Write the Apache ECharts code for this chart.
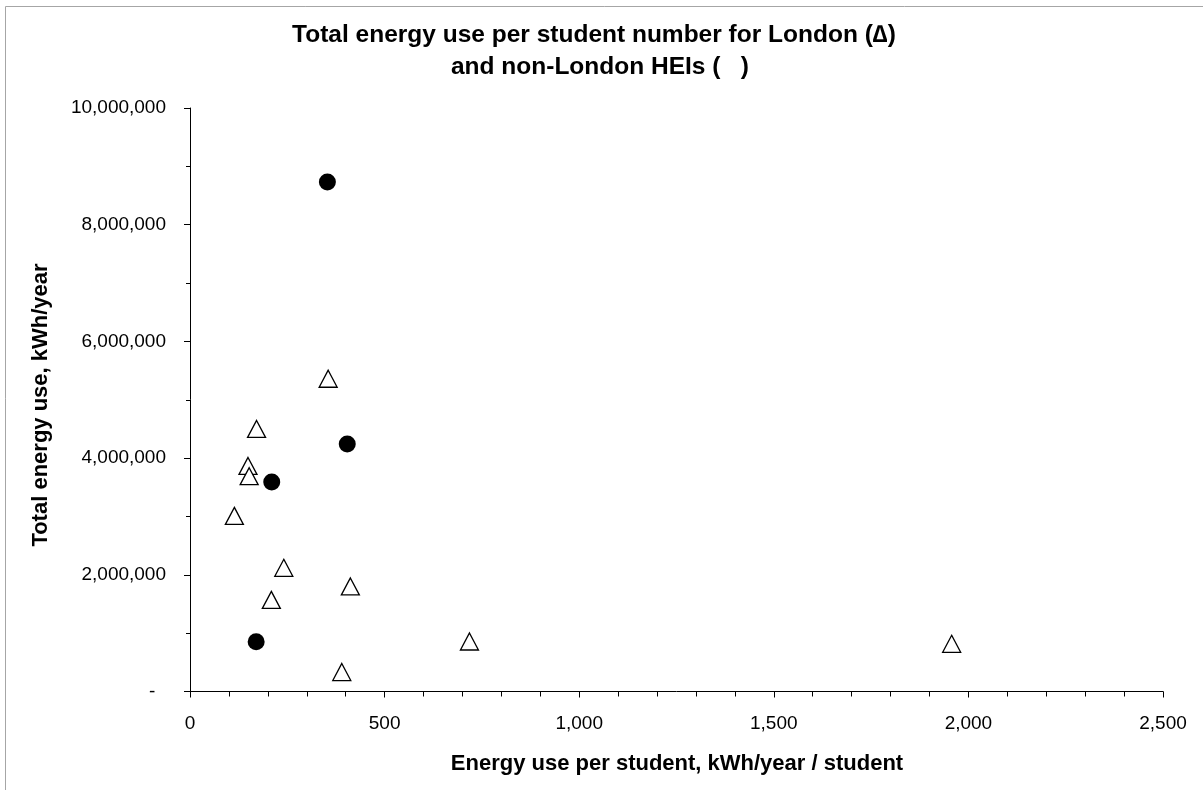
<!DOCTYPE html>
<html>
<head>
<meta charset="utf-8">
<script src="https://cdn.jsdelivr.net/npm/echarts@6/dist/echarts.min.js"></script>
<style>
html,body{margin:0;padding:0;background:#fff;}
#chart{width:1203px;height:790px;}
</style>
</head>
<body>
<div id="chart"></div>
<script>
// London HEIs (triangles)
const londonX = [171, 149, 152, 114, 241, 209, 412, 390, 355, 718, 1957];
const londonY = [4500000, 3865000, 3690000, 3010000, 2120000, 1570000, 1800000, 334000, 5360000, 857000, 817000];
// non-London HEIs (filled circles)
const nonLondonX = [353, 404, 210, 170];
const nonLondonY = [8730000, 4240000, 3590000, 853000];

const titleLine1 = 'Total energy use per student number for London (\u2206)';
const titleLine2 = 'and non-London HEIs (   )';
const xAxisTitle = 'Energy use per student, kWh/year / student';
const yAxisTitle = 'Total energy use, kWh/year';

const FONT = '"Liberation Sans", Arial, sans-serif';

const chart = echarts.init(document.getElementById('chart'), null, {renderer: 'canvas'});

function fmt(v) {
  if (v === 0) return '-  ';
  return v.toLocaleString('en-US');
}

chart.setOption({
  animation: false,
  backgroundColor: '#fff',
  graphic: [
    {type: 'rect', shape: {x: 5.5, y: 6.5, width: 2000, height: 2000},
     style: {fill: 'none', stroke: '#a6a6a6', lineWidth: 1}, silent: true},
    {type: 'text', x: 594, y: 35,
     style: {text: titleLine1, textAlign: 'center', textVerticalAlign: 'middle',
             font: 'bold 24.5px ' + FONT, fill: '#000'}},
    {type: 'text', x: 600, y: 67,
     style: {text: titleLine2, textAlign: 'center', textVerticalAlign: 'middle',
             font: 'bold 24.5px ' + FONT, fill: '#000'}},
    {type: 'text', x: 677, y: 764,
     style: {text: xAxisTitle, textAlign: 'center', textVerticalAlign: 'middle',
             font: 'bold 22px ' + FONT, fill: '#000'}},
    {type: 'text', x: 40.5, y: 405, rotation: Math.PI / 2,
     style: {text: yAxisTitle, textAlign: 'center', textVerticalAlign: 'middle',
             font: 'bold 22px ' + FONT, fill: '#000'}}
  ],
  grid: {left: 190, right: 40, top: 108, bottom: 98.5, containLabel: false},
  xAxis: {
    type: 'value', min: 0, max: 2500, interval: 500,
    axisLine: {show: true, onZero: false, lineStyle: {color: '#000', width: 1}},
    axisTick: {show: true, inside: false, length: 6, lineStyle: {color: '#000', width: 1}},
    minorTick: {show: true, splitNumber: 5, length: 5, lineStyle: {color: '#000', width: 1}},
    axisLabel: {fontFamily: FONT, fontSize: 19, color: '#000', margin: 23,
                formatter: v => v.toLocaleString('en-US')},
    splitLine: {show: false}
  },
  yAxis: {
    type: 'value', min: 0, max: 10000000, interval: 2000000,
    axisLine: {show: true, onZero: false, lineStyle: {color: '#000', width: 1}},
    axisTick: {show: true, inside: false, length: 6, lineStyle: {color: '#000', width: 1}},
    minorTick: {show: true, splitNumber: 2, length: 4, lineStyle: {color: '#000', width: 1}},
    axisLabel: {fontFamily: FONT, fontSize: 19, color: '#000', margin: 24, formatter: fmt},
    splitLine: {show: false}
  },
  series: [
    {
      name: 'London', type: 'scatter', symbol: 'triangle', symbolSize: [18, 17],
      itemStyle: {color: '#fff', borderColor: '#000', borderWidth: 1.3, opacity: 1},
      data: londonX.map((x, i) => [x, londonY[i]])
    },
    {
      name: 'non-London', type: 'scatter', symbol: 'circle', symbolSize: 17,
      itemStyle: {color: '#000', borderColor: '#000', borderWidth: 0, opacity: 1},
      data: nonLondonX.map((x, i) => [x, nonLondonY[i]])
    }
  ]
});
</script>
</body>
</html>
